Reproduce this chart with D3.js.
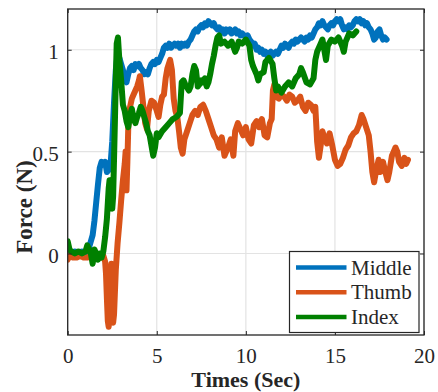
<!DOCTYPE html>
<html>
<head>
<meta charset="utf-8">
<script src="https://cdn.jsdelivr.net/npm/d3@7"></script>
<style>
  html, body { margin: 0; padding: 0; background: #fff; }
  svg { display: block; }
</style>
</head>
<body>
<svg id="chart" width="438" height="392"></svg>
<script>
// ---------- data ----------
const seriesNames = ["Middle", "Thumb", "Index"];
const seriesColors = ["#0072BD", "#D95319", "#008000"];

const xTicks = [0, 5, 10, 15, 20];
const yTicks = [0, 0.5, 1];
const yTickLabels = ["0", "0.5", "1"];

const middleTime = [0.0,0.2,0.4,0.6,0.8,1.0,1.1,1.2,1.3,1.4,1.5,1.6,1.7,1.8,1.9,2.0,2.1,2.2,2.3,2.4,2.5,2.6,2.7,2.8,2.9,3.0,3.1,3.2,3.3,3.4,3.5,3.6,3.7,3.8,3.9,4.0,4.1,4.2,4.3,4.4,4.5,4.6,4.7,4.8,4.9,5.0,5.1,5.2,5.3,5.4,5.5,5.6,5.7,5.8,5.9,6.0,6.1,6.2,6.3,6.4,6.5,6.6,6.7,6.8,6.9,7.0,7.1,7.2,7.3,7.4,7.5,7.6,7.7,7.8,7.9,8.0,8.1,8.2,8.3,8.4,8.5,8.6,8.7,8.8,8.9,9.0,9.1,9.2,9.3,9.4,9.5,9.6,9.7,9.8,9.9,10.0,10.1,10.2,10.3,10.4,10.5,10.6,10.7,10.8,10.9,11.0,11.1,11.2,11.3,11.4,11.5,11.6,11.7,11.8,11.9,12.0,12.1,12.2,12.3,12.4,12.5,12.6,12.7,12.8,12.9,13.0,13.1,13.2,13.3,13.4,13.5,13.6,13.7,13.8,13.9,14.0,14.1,14.2,14.3,14.4,14.5,14.6,14.7,14.8,14.9,15.0,15.1,15.2,15.3,15.4,15.5,15.6,15.7,15.8,15.9,16.0,16.1,16.2,16.3,16.4,16.5,16.6,16.7,16.8,16.9,17.0,17.1,17.2,17.3,17.4,17.5,17.6,17.7,17.8,17.9];
const middleForce = [0.01,0.00,0.01,0.00,0.01,0.00,0.02,0.03,0.06,0.09,0.16,0.25,0.34,0.42,0.45,0.44,0.45,0.40,0.41,0.43,0.55,0.74,0.90,0.98,0.96,0.93,0.90,0.86,0.84,0.88,0.91,0.92,0.90,0.93,0.92,0.93,0.91,0.90,0.88,0.89,0.88,0.91,0.93,0.94,0.93,0.95,0.94,0.96,0.98,1.01,1.02,1.01,1.03,1.01,1.02,1.03,1.02,1.03,1.01,1.03,1.02,1.03,1.02,1.04,1.05,1.07,1.09,1.10,1.09,1.11,1.12,1.11,1.13,1.12,1.14,1.13,1.12,1.13,1.11,1.10,1.11,1.09,1.10,1.08,1.10,1.09,1.10,1.08,1.09,1.10,1.08,1.09,1.07,1.08,1.07,1.06,1.07,1.05,1.04,1.02,1.03,1.00,1.01,0.99,1.00,0.98,0.99,0.97,0.98,0.99,0.97,0.98,0.99,0.98,1.00,1.02,1.01,1.03,1.02,1.01,1.03,1.04,1.03,1.05,1.04,1.05,1.06,1.05,1.04,1.06,1.05,1.07,1.06,1.08,1.10,1.11,1.13,1.12,1.14,1.12,1.11,1.10,1.12,1.13,1.12,1.14,1.15,1.14,1.15,1.12,1.10,1.11,1.10,1.12,1.11,1.12,1.14,1.15,1.14,1.15,1.13,1.14,1.12,1.13,1.11,1.10,1.08,1.05,1.06,1.09,1.10,1.07,1.05,1.06,1.05];

const thumbTime = [0.0,0.1,0.3,0.5,0.7,0.9,1.1,1.3,1.5,1.7,1.9,2.0,2.1,2.15,2.2,2.25,2.3,2.35,2.4,2.45,2.5,2.55,2.6,2.7,2.8,2.9,3.0,3.1,3.2,3.25,3.3,3.35,3.4,3.5,3.6,3.7,3.8,3.9,4.0,4.05,4.15,4.25,4.35,4.45,4.55,4.7,4.85,5.0,5.1,5.2,5.3,5.4,5.5,5.6,5.75,5.85,5.95,6.05,6.15,6.25,6.35,6.45,6.55,6.7,6.85,7.0,7.15,7.3,7.45,7.6,7.75,7.9,8.05,8.2,8.35,8.5,8.65,8.8,8.9,9.0,9.15,9.3,9.4,9.55,9.7,9.85,10.0,10.15,10.3,10.45,10.6,10.75,10.9,11.05,11.2,11.35,11.45,11.52,11.6,11.7,11.85,12.0,12.15,12.3,12.45,12.6,12.75,12.9,13.05,13.2,13.35,13.5,13.65,13.8,13.9,14.0,14.1,14.2,14.3,14.4,14.55,14.7,14.85,15.0,15.15,15.3,15.45,15.6,15.75,15.9,16.05,16.2,16.35,16.5,16.6,16.75,16.9,17.0,17.1,17.2,17.3,17.45,17.55,17.7,17.8,17.95,18.05,18.2,18.3,18.4,18.5,18.6,18.75,18.9,19.0,19.1];
const thumbForce = [-0.03,-0.01,-0.02,-0.02,-0.01,-0.02,-0.02,-0.01,-0.02,-0.02,-0.02,-0.01,-0.04,-0.10,-0.22,-0.33,-0.36,-0.28,-0.12,-0.05,-0.20,-0.34,-0.30,-0.08,0.05,0.15,0.26,0.36,0.44,0.50,0.31,0.45,0.62,0.72,0.76,0.78,0.80,0.82,0.85,0.87,0.80,0.72,0.64,0.61,0.70,0.75,0.74,0.70,0.67,0.73,0.77,0.78,0.86,0.91,0.95,0.90,0.76,0.70,0.67,0.60,0.52,0.49,0.56,0.60,0.64,0.68,0.70,0.68,0.72,0.73,0.70,0.66,0.62,0.58,0.56,0.52,0.57,0.48,0.50,0.52,0.56,0.48,0.60,0.64,0.61,0.58,0.62,0.56,0.54,0.63,0.65,0.62,0.66,0.58,0.57,0.64,0.66,0.80,0.83,0.77,0.76,0.78,0.77,0.75,0.78,0.77,0.74,0.75,0.77,0.72,0.70,0.74,0.73,0.70,0.72,0.55,0.47,0.53,0.60,0.57,0.54,0.59,0.53,0.46,0.43,0.44,0.47,0.51,0.53,0.57,0.59,0.60,0.63,0.68,0.66,0.62,0.58,0.50,0.40,0.35,0.40,0.46,0.40,0.45,0.41,0.36,0.40,0.48,0.50,0.52,0.50,0.45,0.43,0.47,0.44,0.46];

const indexTime = [0.0,0.05,0.1,0.2,0.4,0.6,0.8,1.0,1.1,1.2,1.3,1.4,1.45,1.5,1.6,1.7,1.8,1.9,2.0,2.1,2.2,2.3,2.35,2.4,2.5,2.55,2.6,2.65,2.7,2.75,2.82,2.9,3.0,3.1,3.2,3.3,3.4,3.5,3.6,3.7,3.8,3.9,4.0,4.1,4.2,4.3,4.4,4.5,4.6,4.7,4.8,4.9,5.0,5.1,5.3,5.5,5.7,5.9,6.1,6.3,6.4,6.5,6.6,6.8,6.9,7.0,7.1,7.2,7.3,7.4,7.5,7.6,7.7,7.8,7.9,8.0,8.1,8.2,8.3,8.4,8.5,8.6,8.8,9.0,9.2,9.4,9.5,9.6,9.8,10.0,10.2,10.3,10.4,10.6,10.7,10.8,11.0,11.1,11.3,11.5,11.6,11.7,11.8,12.0,12.2,12.4,12.6,12.8,13.0,13.1,13.2,13.4,13.6,13.8,13.9,14.0,14.2,14.3,14.5,14.6,14.8,15.0,15.2,15.4,15.5,15.6,15.8,16.0,16.2];
const indexForce = [0.06,0.04,0.02,0.01,0.00,0.01,0.00,0.01,0.04,0.02,0.00,-0.05,-0.02,0.02,0.00,-0.03,0.00,-0.02,0.01,0.08,0.17,0.32,0.36,0.26,0.22,0.28,0.46,0.65,0.85,1.03,1.06,0.95,0.85,0.73,0.70,0.65,0.62,0.68,0.71,0.66,0.64,0.67,0.69,0.72,0.70,0.67,0.64,0.60,0.58,0.53,0.48,0.52,0.59,0.57,0.60,0.62,0.64,0.66,0.67,0.69,0.84,0.85,0.83,0.80,0.82,0.88,0.92,0.90,0.82,0.83,0.85,0.84,0.86,0.82,0.84,0.88,0.93,0.97,1.02,1.06,1.07,1.03,1.04,1.02,1.04,0.99,1.01,1.04,1.03,1.05,1.02,0.95,0.92,0.88,0.85,0.88,0.89,0.94,0.96,0.93,0.86,0.80,0.82,0.79,0.82,0.84,0.82,0.86,0.88,0.91,0.89,0.84,0.83,0.86,0.95,0.99,1.03,1.05,0.95,1.02,1.05,1.04,1.06,1.02,0.99,1.04,1.08,1.07,1.09];

// ---------- layout ----------
const plot = { left: 67.7, right: 424, top: 9, bottom: 335 };
const svg = d3.select("#chart");
const FONT = "'Liberation Serif'";

const x = d3.scaleLinear().domain([0, 20]).range([plot.left, plot.right]);
const y = d3.scaleLinear().domain([-0.4, 1.2]).range([plot.bottom, plot.top]);

const axisColor = "#262626";
const gridColor = "#e3e3e3";

// grid
const grid = svg.append("g");
grid.selectAll("line.gx").data(xTicks).join("line")
  .attr("x1", d => x(d)).attr("x2", d => x(d))
  .attr("y1", plot.top).attr("y2", plot.bottom)
  .attr("stroke", gridColor).attr("stroke-width", 1.2);
grid.selectAll("line.gy").data(yTicks).join("line")
  .attr("x1", plot.left).attr("x2", plot.right)
  .attr("y1", d => y(d)).attr("y2", d => y(d))
  .attr("stroke", gridColor).attr("stroke-width", 1.2);

// data lines
svg.append("clipPath").attr("id", "clip").append("rect")
  .attr("x", plot.left).attr("y", plot.top)
  .attr("width", plot.right - plot.left).attr("height", plot.bottom - plot.top);

const series = [
  { name: seriesNames[0], color: seriesColors[0], t: middleTime, v: middleForce },
  { name: seriesNames[1], color: seriesColors[1], t: thumbTime, v: thumbForce },
  { name: seriesNames[2], color: seriesColors[2], t: indexTime, v: indexForce }
];
const line = d3.line().x(d => x(d[0])).y(d => y(d[1])).curve(d3.curveLinear);
const lines = svg.append("g").attr("clip-path", "url(#clip)");
series.forEach(s => {
  lines.append("path")
    .datum(s.t.map((t, i) => [t, s.v[i]]))
    .attr("d", line)
    .attr("fill", "none")
    .attr("stroke", s.color)
    .attr("stroke-width", 6)
    .attr("stroke-linejoin", "round")
    .attr("stroke-linecap", "round");
});

// axes
const tickLen = 4;
const fontSize = 21;
const xAxis = svg.append("g").attr("transform", `translate(0,${plot.bottom})`)
  .call(d3.axisBottom(x).tickValues(xTicks).tickFormat(d3.format("d"))
    .tickSizeInner(-tickLen).tickSizeOuter(0).tickPadding(13));
const yAxis = svg.append("g").attr("transform", `translate(${plot.left},0)`)
  .call(d3.axisLeft(y).tickValues(yTicks).tickFormat((d, i) => yTickLabels[i])
    .tickSizeInner(-tickLen).tickSizeOuter(0).tickPadding(9));
const xTop = svg.append("g").attr("transform", `translate(0,${plot.top})`)
  .call(d3.axisTop(x).tickValues(xTicks).tickFormat("")
    .tickSizeInner(-tickLen).tickSizeOuter(0));
const yRight = svg.append("g").attr("transform", `translate(${plot.right},0)`)
  .call(d3.axisRight(y).tickValues(yTicks).tickFormat("")
    .tickSizeInner(-tickLen).tickSizeOuter(0));

[xAxis, yAxis, xTop, yRight].forEach(g => {
  g.attr("font-family", null).attr("font-size", null);
  g.select(".domain").remove();
  g.selectAll(".tick line").attr("stroke", axisColor).attr("stroke-width", 1);
  g.selectAll(".tick text")
    .style("font-family", FONT)
    .style("font-size", fontSize + "px")
    .attr("fill", axisColor);
});
yAxis.selectAll(".tick text").attr("dy", "0.42em");

// box
svg.append("rect")
  .attr("x", plot.left).attr("y", plot.top)
  .attr("width", plot.right - plot.left).attr("height", plot.bottom - plot.top)
  .attr("fill", "none").attr("stroke", axisColor).attr("stroke-width", 1.3);

// axis labels
svg.append("text")
  .attr("x", (plot.left + plot.right) / 2).attr("y", 387)
  .attr("text-anchor", "middle").attr("fill", axisColor)
  .style("font-family", FONT)
  .style("font-size", "22px").style("font-weight", "bold")
  .text("Times (Sec)");
svg.append("text")
  .attr("transform", "translate(32,207) rotate(-90)")
  .attr("text-anchor", "middle").attr("fill", axisColor)
  .style("font-family", FONT)
  .style("font-size", "23px").style("font-weight", "bold")
  .text("Force (N)");

// legend
const legend = svg.append("g");
legend.append("rect")
  .attr("x", 289.5).attr("y", 251.5).attr("width", 129.5).attr("height", 81)
  .attr("fill", "#fff").attr("stroke", axisColor).attr("stroke-width", 1.2);
const legY = [267.5, 292.3, 317];
series.forEach((s, i) => {
  legend.append("line")
    .attr("x1", 296).attr("x2", 346.5)
    .attr("y1", legY[i]).attr("y2", legY[i])
    .attr("stroke", s.color).attr("stroke-width", 4.5);
  legend.append("text")
    .attr("x", 351).attr("y", legY[i] + 7)
    .attr("fill", axisColor)
    .style("font-family", FONT)
    .style("font-size", fontSize + "px")
    .text(s.name);
});
</script>
</body>
</html>
